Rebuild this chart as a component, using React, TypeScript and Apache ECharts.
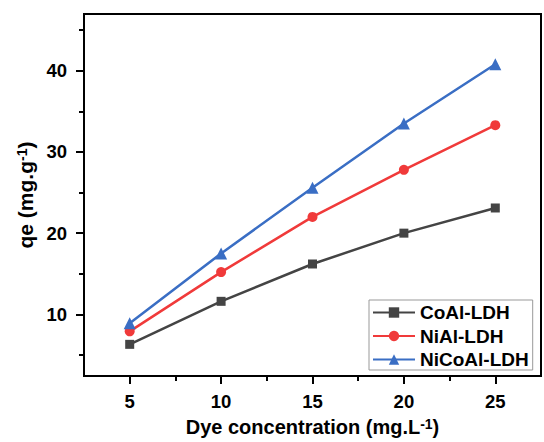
import React, { useEffect, useRef } from "react";
import * as echarts from "echarts";

const concentrations = [5, 10, 15, 20, 25];
const coAl = [6.3, 11.6, 16.2, 20.0, 23.1];
const niAl = [7.9, 15.2, 22.0, 27.8, 33.3];
const niCoAl = [8.9, 17.5, 25.6, 33.5, 40.8];
const seriesNames = ["CoAl-LDH", "NiAl-LDH", "NiCoAl-LDH"];
const xMajorTicks = [5, 10, 15, 20, 25];
const xMinorTicks = [7.5, 12.5, 17.5, 22.5];
const yMajorTicks = [10, 20, 30, 40];
const yMinorTicks = [5, 15, 25, 35, 45];

const FONT = "'Liberation Sans', Arial, sans-serif";

export default function App() {
  const ref = useRef<HTMLDivElement>(null);
  useEffect(() => {
    if (!ref.current) return;
    const chart = echarts.init(ref.current, null, { renderer: "svg" });
    const toPairs = (vals: number[]) => concentrations.map((c, i) => [c, vals[i]]);
    const xMin = 2.5, xMax = 27.5, yMin = 2.4, yMax = 47;
    const baseAxisCommon = {
      splitLine: { show: false },
    };
    chart.setOption({
      animation: false,
      textStyle: { fontFamily: FONT },
      grid: {
        left: 84,
        top: 14,
        right: 3,
        bottom: 59,
        show: true,
        borderColor: "#000",
        borderWidth: 2,
        backgroundColor: "transparent",
      },
      xAxis: [
        {
          ...baseAxisCommon,
          type: "value",
          min: xMin,
          max: xMax,
          position: "bottom",
          axisLine: { show: true, lineStyle: { color: "#000", width: 2 } },
          axisTick: { show: true, customValues: xMajorTicks, length: 8, lineStyle: { color: "#000", width: 2 } },
          axisLabel: {
            customValues: xMajorTicks,
            color: "#000",
            fontSize: 18.5,
            fontWeight: "bold",
            fontFamily: FONT,
            margin: 16,
          },
          name: "Dye concentration (mg.L{sup|-1})",
          nameLocation: "middle",
          nameGap: 41,
          nameTextStyle: {
            color: "#000",
            fontSize: 20,
            fontWeight: "bold",
            fontFamily: FONT,
            rich: {
              sup: { fontSize: 14, fontWeight: "bold", verticalAlign: "top", fontFamily: FONT, color: "#000", padding: [0, 0, 6, 0] },
            },
          },
        },
        {
          ...baseAxisCommon,
          type: "value",
          min: xMin,
          max: xMax,
          position: "bottom",
          axisLine: { show: false },
          axisTick: { show: true, customValues: xMinorTicks, length: 5, lineStyle: { color: "#000", width: 2 } },
          axisLabel: { show: false },
        },
      ],
      yAxis: [
        {
          ...baseAxisCommon,
          type: "value",
          min: yMin,
          max: yMax,
          axisLine: { show: true, lineStyle: { color: "#000", width: 2 } },
          axisTick: { show: true, customValues: yMajorTicks, length: 8, lineStyle: { color: "#000", width: 2 } },
          axisLabel: {
            customValues: yMajorTicks,
            color: "#000",
            fontSize: 18.5,
            fontWeight: "bold",
            fontFamily: FONT,
            margin: 17,
          },
          name: "qe (mg.g{sup|-1})",
          nameLocation: "middle",
          nameRotate: 90,
          nameGap: 42,
          nameTextStyle: {
            color: "#000",
            fontSize: 21,
            fontWeight: "bold",
            fontFamily: FONT,
            rich: {
              sup: { fontSize: 14, fontWeight: "bold", verticalAlign: "top", fontFamily: FONT, color: "#000", padding: [0, 0, 6, 0] },
            },
          },
        },
        {
          ...baseAxisCommon,
          type: "value",
          min: yMin,
          max: yMax,
          position: "left",
          axisLine: { show: false },
          axisTick: { show: true, customValues: yMinorTicks, length: 5, lineStyle: { color: "#000", width: 2 } },
          axisLabel: { show: false },
        },
      ],
      legend: {
        orient: "vertical",
        left: 369,
        top: 300,
        padding: [3, 4, 1, 3],
        itemGap: 4.5,
        itemWidth: 42,
        itemHeight: 13,
        borderColor: "#999",
        borderWidth: 1,
        backgroundColor: "#fff",
        textStyle: { color: "#000", fontSize: 19, fontWeight: "bold", fontFamily: FONT },
        data: seriesNames,
      },
      series: [
        {
          name: seriesNames[0],
          type: "line",
          data: toPairs(coAl),
          symbol: "rect",
          symbolSize: 9,
          color: "#444444",
          lineStyle: { width: 2.5, color: "#444444" },
          itemStyle: { color: "#444444" },
        },
        {
          name: seriesNames[1],
          type: "line",
          data: toPairs(niAl),
          symbol: "circle",
          symbolSize: 10,
          color: "#f03a3a",
          lineStyle: { width: 2.5, color: "#f03a3a" },
          itemStyle: { color: "#f03a3a" },
        },
        {
          name: seriesNames[2],
          type: "line",
          data: toPairs(niCoAl),
          symbol: "triangle",
          symbolSize: 12,
          color: "#3a6ec4",
          lineStyle: { width: 2.5, color: "#3a6ec4" },
          itemStyle: { color: "#3a6ec4" },
        },
      ],
    });
    return () => chart.dispose();
  }, []);
  return <div ref={ref} style={{ width: 544, height: 442, position: "absolute", left: 0, top: 0 }} />;
}
